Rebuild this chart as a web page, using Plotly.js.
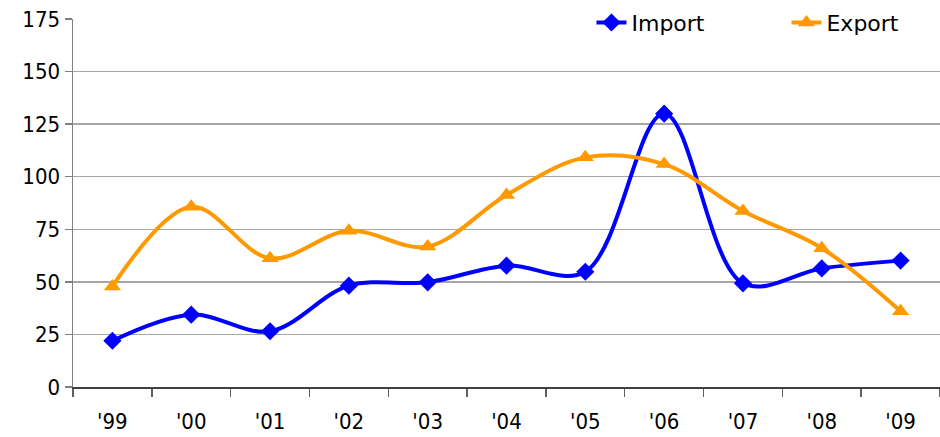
<!DOCTYPE html>
<html><head><meta charset="utf-8">
<script src="https://cdn.plot.ly/plotly-3.0.1.min.js"></script>
<style>html,body{margin:0;padding:0;background:#fff}#chart{width:940px;height:437px}</style>
</head><body><div id="chart"></div>
<script>
const years = ["'99","'00","'01","'02","'03","'04","'05","'06","'07","'08","'09"];
const importVals = [22, 34.4, 26.5, 48.2, 49.8, 57.7, 54.8, 130, 49.3, 56.4, 60.1];
const exportVals = [47.8, 85.7, 61.2, 74.3, 66.8, 91.3, 109.2, 106, 83.7, 66, 36];
const yTicks = [0, 25, 50, 75, 100, 125, 150, 175];

const font = {family: "DejaVu Sans Condensed, Tahoma, sans-serif", size: 22, color: "#000"};
const legendFont = {family: "DejaVu Sans, Tahoma, sans-serif", size: 22, color: "#000"};
const traces = [
  {x: years, y: importVals, name: "Import", type: "scatter", mode: "lines+markers",
   line: {color: "#0000ff", width: 4, shape: "spline", smoothing: 1},
   marker: {symbol: "diamond", size: 14, color: "#0000ff"}},
  {x: years, y: exportVals, name: "Export", type: "scatter", mode: "lines+markers",
   line: {color: "#ff9900", width: 4, shape: "spline", smoothing: 1},
   marker: {symbol: "triangle-up", size: 15, color: "#ff9900"}}
];
const layout = {
  width: 940, height: 437,
  margin: {l: 73, r: 0, t: 19, b: 50, autoexpand: false},
  paper_bgcolor: "#fff", plot_bgcolor: "#fff",
  font: font,
  showlegend: true,
  legend: {orientation: "h", x: 0.598, xanchor: "left", y: 0.99, yanchor: "middle",
           bgcolor: "#fff", font: legendFont, entrywidth: 150, entrywidthmode: "pixels",
           tracegroupgap: 0},
  xaxis: {type: "category", range: [-0.5, 10.5], showgrid: false, showline: true,
          linecolor: "#404040", linewidth: 1.5, automargin: false,
          ticks: "outside", tickson: "boundaries", ticklen: 8, tickcolor: "#606060", tickwidth: 1.5,
          ticklabelstandoff: 14, tickfont: font, fixedrange: true},
  yaxis: {range: [0, 175], tickvals: yTicks, showgrid: true, gridcolor: "#a6a6a6", gridwidth: 1.5,
          showline: true, linecolor: "#808080", linewidth: 1.5, zeroline: false, automargin: false,
          ticks: "outside", ticklen: 7, tickcolor: "#808080", tickwidth: 1.5,
          tickfont: font, fixedrange: true}
};
Plotly.newPlot("chart", traces, layout, {displayModeBar: false, staticPlot: true});
</script></body></html>
